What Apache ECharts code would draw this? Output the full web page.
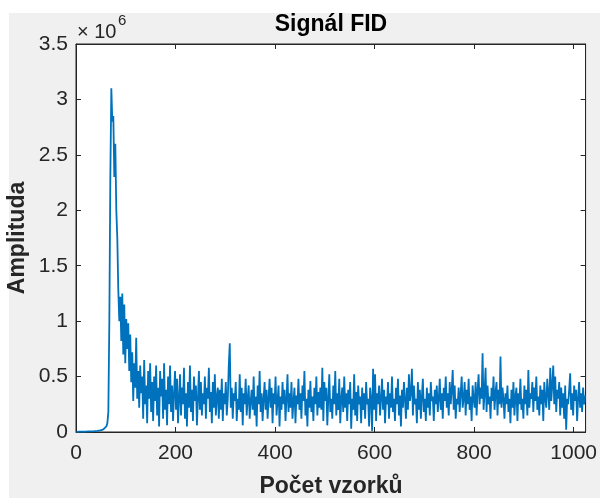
<!DOCTYPE html>
<html>
<head>
<meta charset="utf-8">
<script src="https://cdn.jsdelivr.net/npm/echarts@6/dist/echarts.min.js"></script>
<style>
    html, body { margin: 0; padding: 0; background: #fff; }
    #chart { width: 600px; height: 498px; }
</style>
</head>
<body>
<div id="chart"></div>
<script>
// osa x: počet vzorků (vzorky 1, 3, 5 ... 1023)
var sampleStep = 2;
var xTicks = [0, 200, 400, 600, 800, 1000];
var xMax = 1024;
// osa y: amplituda v jednotkách 10^6
var yMax = 3.5;
var yStep = 0.5;
// odečtené hodnoty signálu FID (×10^6), jedna hodnota na každý druhý vzorek
var amplitude = [
    0.002,0.002,0.002,0.003,0.003,0.003,0.003,0.003,0.004,0.004,0.004,0.004,0.005,0.005,0.005,0.006,
    0.006,0.007,0.007,0.008,0.009,0.010,0.011,0.012,0.014,0.016,0.019,0.023,0.028,0.036,0.05,0.08,
    0.18,1.0,2.3,3.1,2.8,2.85,2.3,2.6,2.0,1.75,1.28,1.0,1.22,0.82,1.25,0.7,
    1.15,0.62,1.02,0.75,0.98,0.55,0.88,0.45,0.72,0.28,0.62,0.4,0.85,0.3,0.55,0.22,
    0.6,0.35,0.5,0.12,0.65,0.25,0.42,0.08,0.55,0.3,0.62,0.18,0.45,0.1,0.5,0.28,
    0.6,0.15,0.4,0.05,0.55,0.32,0.48,0.12,0.62,0.2,0.38,0.06,0.5,0.25,0.6,0.18,
    0.42,0.1,0.35,0.55,0.2,0.48,0.08,0.3,0.52,0.15,0.4,0.25,0.58,0.12,0.35,0.05,
    0.45,0.22,0.6,0.18,0.38,0.1,0.5,0.28,0.42,0.06,0.3,0.55,0.2,0.45,0.15,0.35,
    0.25,0.5,0.12,0.4,0.3,0.58,0.18,0.36,0.08,0.45,0.22,0.52,0.15,0.32,0.4,0.12,
    0.38,0.2,0.48,0.1,0.35,0.25,0.45,0.15,0.3,0.6,0.8,0.22,0.4,0.12,0.35,0.28,
    0.45,0.1,0.3,0.2,0.52,0.18,0.4,0.06,0.35,0.25,0.48,0.15,0.3,0.42,0.12,0.28,
    0.38,0.2,0.5,0.15,0.32,0.05,0.42,0.25,0.55,0.18,0.35,0.1,0.3,0.45,0.2,0.38,
    0.12,0.3,0.48,0.22,0.4,0.08,0.35,0.25,0.5,0.15,0.28,0.42,0.05,0.32,0.2,0.45,
    0.25,0.38,0.1,0.3,0.52,0.18,0.35,0.22,0.45,0.12,0.28,0.4,0.08,0.33,0.25,0.48,
    0.2,0.35,0.12,0.42,0.28,0.55,0.15,0.3,0.05,0.38,0.22,0.46,0.18,0.32,0.1,0.4,
    0.25,0.5,0.15,0.36,0.22,0.4,0.2,0.58,0.1,0.45,0.28,0.4,0.06,0.3,0.52,0.18,
    0.3,0.12,0.42,0.25,0.55,0.15,0.35,0.2,0.48,0.08,0.3,0.4,0.18,0.5,0.22,0.35,
    0.1,0.38,0.25,0.45,0.03,0.3,0.2,0.52,0.15,0.36,0.1,0.42,0.25,0.32,0.08,0.4,
    0.2,0.35,0.12,0.45,0.25,0.3,0.05,0.4,0.3,0.01,0.57,0.2,0.52,0.1,0.35,0.25,
    0.42,0.15,0.3,0.48,0.2,0.38,0.08,0.32,0.25,0.45,0.12,0.35,0.22,0.5,0.18,0.3,
    0.1,0.4,0.25,0.48,0.15,0.33,0.05,0.38,0.22,0.45,0.3,0.12,0.4,0.2,0.52,0.28,
    0.35,0.57,0.15,0.42,0.25,0.3,0.08,0.45,0.2,0.38,0.12,0.32,0.48,0.18,0.3,0.1,
    0.4,0.22,0.35,0.15,0.45,0.28,0.32,0.1,0.38,0.25,0.42,0.18,0.3,0.48,0.2,0.35,
    0.12,0.4,0.28,0.5,0.22,0.35,0.15,0.45,0.25,0.38,0.56,0.2,0.42,0.12,0.3,0.25,
    0.4,0.18,0.35,0.5,0.22,0.3,0.45,0.15,0.38,0.25,0.48,0.2,0.32,0.1,0.42,0.3,
    0.22,0.45,0.15,0.38,0.52,0.25,0.4,0.3,0.71,0.2,0.35,0.58,0.18,0.42,0.25,0.32,
    0.12,0.4,0.28,0.5,0.2,0.35,0.45,0.15,0.38,0.25,0.68,0.22,0.4,0.3,0.12,0.35,
    0.25,0.42,0.18,0.3,0.08,0.38,0.22,0.45,0.15,0.32,0.4,0.1,0.35,0.25,0.48,0.2,
    0.3,0.12,0.42,0.25,0.38,0.15,0.56,0.22,0.35,0.3,0.45,0.18,0.4,0.28,0.5,0.2,
    0.32,0.15,0.42,0.25,0.38,0.1,0.45,0.3,0.22,0.48,0.35,0.2,0.58,0.28,0.42,0.6,
    0.25,0.5,0.18,0.38,0.3,0.45,0.15,0.4,0.22,0.35,0.12,0.42,0.02,0.3,0.25,0.38,
    0.53,0.2,0.35,0.15,0.42,0.28,0.38,0.1,0.3,0.45,0.22,0.35,0.18,0.4,0.25,0.33
];

var myChart = echarts.init(document.getElementById('chart'));
var points = amplitude.map(function (v, i) {
    return [i * sampleStep + 1, v];
});
var axisColor = '#262626';
var fontName = 'Liberation Sans';

// osy bez popisků (nahoře a vpravo) – jen čárky jako v MATLABu
function boxAxis(pos, isX) {
    return {
        type: 'value',
        show: true,
        gridIndex: 0,
        position: pos,
        min: 0,
        max: isX ? xMax : yMax,
        interval: isX ? xTicks[1] - xTicks[0] : yStep,
        axisLine: { show: true, onZero: false, lineStyle: { color: axisColor, width: 1 } },
        axisTick: { show: true, inside: true, length: 5, lineStyle: { color: axisColor } },
        axisLabel: { show: false },
        splitLine: { show: false }
    };
}

function txt(x, y, text, size, weight, color, align, rot) {
    return {
        type: 'text', x: x, y: y, rotation: rot || 0,
        style: {
            text: text, fill: color, fontSize: size, fontWeight: weight,
            fontFamily: fontName, textAlign: align, verticalAlign: 'middle'
        }
    };
}

var option = {
    backgroundColor: '#f0f0f0',
    animation: false,
    grid: {
        left: 76,
        right: 12,
        top: 44,
        bottom: 66,
        show: true,
        backgroundColor: '#ffffff',
        borderWidth: 1,
        borderColor: axisColor
    },
    xAxis: [{
        type: 'value',
        position: 'bottom',
        min: 0,
        max: xMax,
        interval: xTicks[1] - xTicks[0],
        axisLine: { show: true, onZero: false, lineStyle: { color: axisColor, width: 1 } },
        axisTick: { show: true, inside: true, length: 5, lineStyle: { color: axisColor } },
        axisLabel: {
            color: axisColor,
            fontSize: 21,
            fontFamily: fontName,
            margin: 11,
            showMaxLabel: false,
            formatter: function (v) { return String(v); }
        },
        splitLine: { show: false }
    }, boxAxis('top', true)],
    yAxis: [{
        type: 'value',
        position: 'left',
        min: 0,
        max: yMax,
        interval: yStep,
        axisLine: { show: true, onZero: false, lineStyle: { color: axisColor, width: 1 } },
        axisTick: { show: true, inside: true, length: 5, lineStyle: { color: axisColor } },
        axisLabel: {
            color: axisColor,
            fontSize: 21,
            fontFamily: fontName,
            margin: 8,
            formatter: function (v) { return String(v); }
        },
        splitLine: { show: false }
    }, boxAxis('right', false)],
    graphic: [
        // bílý okraj vlevo a nahoře
        { type: 'rect', left: 0, top: 0, shape: { width: 9, height: 498 }, style: { fill: '#ffffff' } },
        { type: 'rect', left: 0, top: 0, shape: { width: 600, height: 13 }, style: { fill: '#ffffff' } },
        txt(331, 25, 'Signál FID', 23, 'bold', '#000', 'center'),
        txt(331, 487, 'Počet vzorků', 23, 'bold', axisColor, 'center'),
        txt(18, 238, 'Amplituda', 23, 'bold', axisColor, 'center', Math.PI / 2),
        txt(77, 32, '× 10', 20, 'normal', axisColor, 'left'),
        txt(118, 21, '6', 15, 'normal', axisColor, 'left')
    ],
    series: [{
        type: 'line',
        xAxisIndex: 0,
        yAxisIndex: 0,
        data: points,
        showSymbol: false,
        sampling: null,
        lineStyle: { color: '#0072BD', width: 1.8 },
        emphasis: { disabled: true }
    }, {
        // prázdná řada, aby se vykreslily horní a pravá osa
        type: 'line',
        xAxisIndex: 1,
        yAxisIndex: 1,
        data: [],
        silent: true
    }]
};
myChart.setOption(option);
</script>
</body>
</html>
